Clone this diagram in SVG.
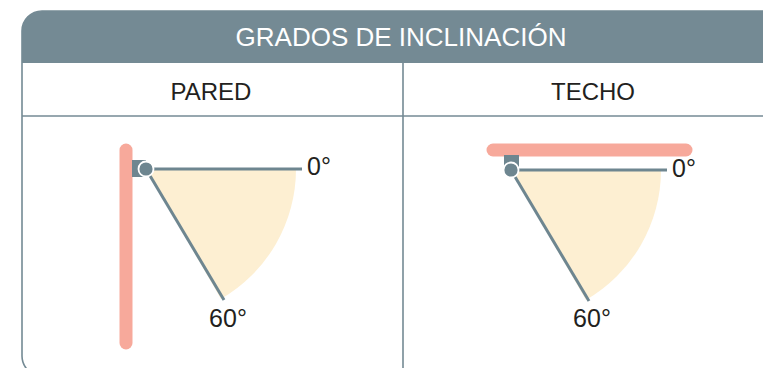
<svg xmlns="http://www.w3.org/2000/svg" width="763" height="368" viewBox="0 0 763 368">
<style>
.grid{fill:none;stroke:#748a94;stroke-width:1.6}
.title{font-family:"Liberation Sans",Arial,sans-serif;font-size:26px;fill:#ffffff}
.lbl{font-family:"Liberation Sans",Arial,sans-serif;font-size:24px;fill:#231f20}
.num{font-family:"Liberation Sans",Arial,sans-serif;font-size:25px;fill:#231f20}
.sector{fill:#fdefd2}
.arm{stroke:#6e8690;stroke-width:3;fill:none}
.surface{stroke:#f7a99b;stroke-width:13;stroke-linecap:round;fill:none}
.mount{fill:#6e8690}
.pivot{fill:#6e8690;stroke:#ffffff;stroke-width:1.8}
</style>
<rect width="763" height="368" fill="#ffffff"/>
<g id="table">
  <rect class="grid" x="22" y="11" width="762" height="365" rx="20" ry="20"/>
  <path d="M22,63 V31 A20,20 0 0 1 42,11 H784 V63 Z" fill="#748a94"/>
  <line class="grid" x1="22" y1="116" x2="784" y2="116"/>
  <line class="grid" x1="403" y1="63" x2="403" y2="376"/>
  <text class="title" x="401" y="46" text-anchor="middle">GRADOS DE INCLINACIÓN</text>
  <text class="lbl" x="211" y="100" text-anchor="middle">PARED</text>
  <text class="lbl" x="593" y="100" text-anchor="middle">TECHO</text>
</g>
<g id="pared">
  <path class="sector" d="M146,169 H296 A150,150 0 0 1 221,298.9 Z"/>
  <line class="surface" x1="126" y1="150" x2="126" y2="343"/>
  <rect class="mount" x="132" y="160" width="14" height="17"/>
  <line class="arm" x1="146" y1="169" x2="302" y2="169"/>
  <line class="arm" x1="146" y1="169" x2="224" y2="300"/>
  <circle class="pivot" cx="146" cy="169" r="7.5"/>
  <text class="num" x="307" y="175">0°</text>
  <text class="num" x="228" y="327" text-anchor="middle">60°</text>
</g>
<g id="techo">
  <path class="sector" d="M511,170 H661 A150,150 0 0 1 586,299.9 Z"/>
  <line class="surface" x1="493" y1="150" x2="686" y2="150"/>
  <rect class="mount" x="504" y="155" width="15" height="15"/>
  <line class="arm" x1="511" y1="170" x2="667" y2="170"/>
  <line class="arm" x1="511" y1="170" x2="589" y2="301"/>
  <circle class="pivot" cx="511" cy="170" r="7.5"/>
  <text class="num" x="672" y="177">0°</text>
  <text class="num" x="592" y="327" text-anchor="middle">60°</text>
</g>
</svg>
